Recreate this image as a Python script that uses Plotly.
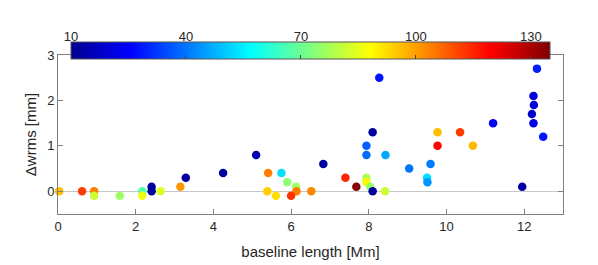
import plotly.graph_objects as go

# baseline length [Mm]
baseline = [0.03, 0.62, 0.93, 0.93, 1.59, 2.17, 2.17, 2.41, 2.41, 2.64, 3.15, 3.29, 4.25,
            5.10, 5.41, 5.75, 5.39, 5.61, 5.90, 6.13, 6.14, 6.00, 6.52, 6.83,
            7.40, 7.68, 7.94, 7.94, 7.94, 7.94, 8.10, 8.04, 8.10, 8.27, 8.43, 8.42,
            9.04, 9.59, 9.50, 9.51, 9.77, 9.77, 10.35, 10.68, 11.20, 11.95,
            12.24, 12.25, 12.20, 12.24, 12.33, 12.49]
# delta wrms [mm]
dwrms = [0.0, 0.0, 0.0, -0.1, -0.1, 0.0, -0.1, 0.1, 0.0, 0.0, 0.1, 0.3, 0.4,
         0.8, 0.4, 0.4, 0.0, -0.1, 0.2, 0.1, 0.0, -0.1, 0.0, 0.6,
         0.3, 0.1, 1.0, 0.8, 0.3, 0.2, 1.3, 0.1, 0.0, 2.5, 0.8, 0.0,
         0.5, 0.6, 0.3, 0.2, 1.3, 1.0, 1.3, 1.0, 1.5, 0.1,
         2.1, 1.9, 1.7, 1.5, 2.7, 1.2]
# colour value
cval = [96, 112, 104, 82, 76, 67, 86, 12, 12, 84, 101, 12, 12,
        14, 104, 53, 94, 92, 74, 76, 104, 113, 103, 12,
        115, 134, 37, 39, 78, 89, 12, 75, 12, 28, 46, 82,
        40, 41, 53, 44, 96, 119, 112, 97, 24, 13,
        21, 20, 18, 22, 29, 28]

cb_ticks = [10, 40, 70, 100, 130]
x_ticks = [0, 2, 4, 6, 8, 10, 12]
y_ticks = [0, 1, 2, 3]

jet = [[0.0, 'rgb(0,0,143)'], [0.125, 'rgb(0,0,255)'], [0.375, 'rgb(0,255,255)'],
       [0.625, 'rgb(255,255,0)'], [0.875, 'rgb(255,0,0)'], [1.0, 'rgb(128,0,0)']]

FONT = "Liberation Sans, Arial, sans-serif"
AX = "#808080"
TXT = "#262626"

fig = go.Figure()
fig.add_trace(go.Scatter(
    x=baseline, y=dwrms, mode="markers", cliponaxis=False,
    marker=dict(size=8.5, color=cval, colorscale=jet, cmin=10, cmax=135,
                line=dict(width=0),
                colorbar=dict(orientation="h", x=0.5, xanchor="center", y=0.862,
                              yanchor="bottom", len=479/505, lenmode="fraction",
                              thickness=17, thicknessmode="pixels", xpad=0, ypad=0,
                              outlinecolor="#555555", outlinewidth=1,
                              tickmode="array", tickvals=cb_ticks[1:], ticks="inside",
                              ticklen=4, tickcolor="#444444", showticklabels=False)),
    showlegend=False, hoverinfo="skip"))
# axis carrying the colour bar labels
fig.add_trace(go.Scatter(x=[], y=[], xaxis="x2", yaxis="y2", showlegend=False))

fig.update_layout(
    width=590, height=257,
    margin=dict(l=50, r=35, t=32, b=51, autoexpand=False),
    paper_bgcolor="white", plot_bgcolor="white",
    font=dict(family=FONT, size=13, color=TXT),
    xaxis=dict(range=[0, 13], tickvals=x_ticks, ticks="inside", ticklen=5,
               tickcolor=AX, showline=True, linecolor=AX, linewidth=1, mirror="ticks",
               showgrid=False, zeroline=False, automargin=False,
               title=dict(text="baseline length [Mm]", font=dict(size=15), standoff=13)),
    yaxis=dict(range=[-0.5, 3], domain=[0, 0.9138], tickvals=y_ticks, ticks="inside",
               ticklen=5, tickcolor=AX, showline=True, linecolor=AX, linewidth=1,
               mirror="ticks", showgrid=False, zeroline=True, zerolinecolor="#c8c8c8",
               zerolinewidth=1, automargin=False,
               title=dict(text="Δwrms [mm]", font=dict(size=15), standoff=6)),
    xaxis2=dict(range=[10, 135], domain=[13/505, 492/505], anchor="y2", side="top",
                tickvals=cb_ticks, ticks="", showline=False, showgrid=False,
                zeroline=False, automargin=False, tickfont=dict(size=13)),
    yaxis2=dict(domain=[0.862, 0.975], anchor="x2", visible=False, range=[0, 1]),
)
fig.write_html("out.html")
